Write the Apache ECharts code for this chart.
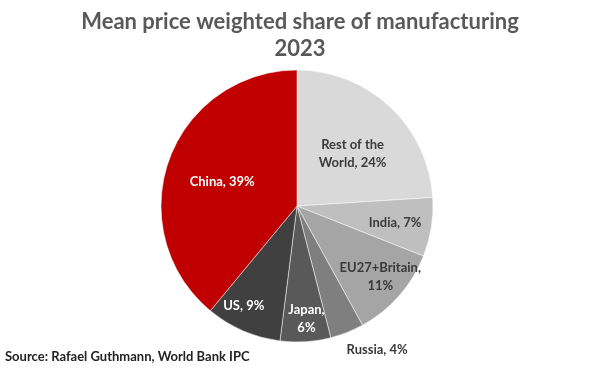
<!DOCTYPE html>
<html>
<head>
<meta charset="utf-8">
<script src="https://cdn.jsdelivr.net/npm/echarts@6/dist/echarts.min.js"></script>
<style>
html, body { margin: 0; padding: 0; background: #fff; }
#chart { width: 600px; height: 376px; }
</style>
</head>
<body>
<div id="chart"></div>
<script>
// data (clockwise from 12 o'clock)
const regions = ['Rest of the\nWorld', 'India', 'EU27+Britain,\n', 'Russia', 'Japan,\n', 'US', 'China'];
const shares = [24, 7, 11, 4, 6, 9, 39];
const sliceColors = ['#d9d9d9', '#bfbfbf', '#a5a5a5', '#7f7f7f', '#595959', '#404040', '#c00000'];
const labelColors = ['#3a3a3a', '#3a3a3a', '#3a3a3a', '#3a3a3a', '#fff', '#fff', '#fff'];
// nudge labels toward where Excel put them
const labelNudge = [[7, 0], [28, 6], [30, 24], [-41, 3], [5, 42], [-25, 35], [-8, 0]];

const chart = echarts.init(document.getElementById('chart'));

const pieData = regions.map((name, i) => ({
  name: name,
  value: shares[i],
  itemStyle: { color: sliceColors[i] },
  label: {
    color: labelColors[i],
    position: name === 'Russia' ? 'outside' : 'inside'
  }
}));

chart.setOption({
  backgroundColor: '#fff',
  title: {
    text: 'Mean price weighted share of manufacturing\n2023',
    left: 'center',
    top: 3,
    textStyle: {
      fontFamily: 'Lato',
      fontSize: 22,
      fontWeight: 'bold',
      color: '#595959',
      lineHeight: 27
    }
  },
  graphic: [{
    type: 'text',
    left: 5,
    top: 350,
    style: {
      text: 'Source: Rafael Guthmann, World Bank IPC',
      font: 'bold 13px Lato',
      fill: '#222'
    }
  }],
  series: [{
    type: 'pie',
    center: [297, 206],
    radius: [0, 136],
    startAngle: 90,
    clockwise: true,
    data: pieData,
    itemStyle: { borderColor: '#fff', borderWidth: 0.5 },
    labelLine: { show: false },
    label: {
      fontFamily: 'Lato',
      fontSize: 13,
      fontWeight: 'bold',
      lineHeight: 18,
      formatter: p => p.name + (p.name.endsWith('\n') ? '' : ', ') + p.value + '%'
    },
    labelLayout: p => ({ dx: labelNudge[p.dataIndex][0], dy: labelNudge[p.dataIndex][1] })
  }]
});
</script>
</body>
</html>
